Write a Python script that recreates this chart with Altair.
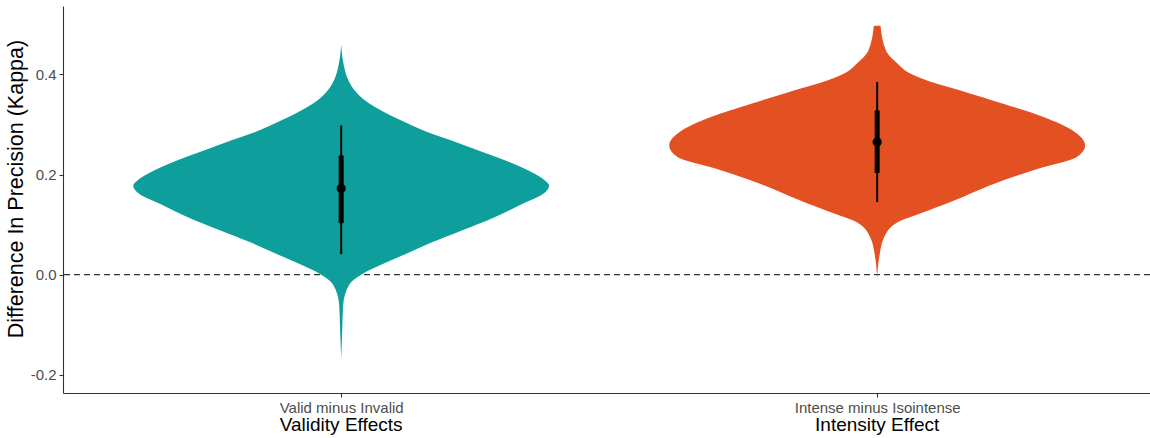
import altair as alt
import pandas as pd

# Two contrasts, shown left to right
EFFECTS = ["Validity Effects", "Intensity Effect"]
CONTRASTS = ["Valid minus Invalid", "Intense minus Isointense"]
COLORS = ["#0E9F9D", "#E35022"]

# Violin outlines: difference in kappa and relative density (1 = widest point)
VALIDITY_KAPPA = [-0.168, -0.112, -0.059, -0.019, 0.001, 0.021, 0.041, 0.065,
                  0.088, 0.115, 0.141, 0.161, 0.178, 0.188, 0.208, 0.228,
                  0.248, 0.268, 0.284, 0.304, 0.324, 0.348, 0.368, 0.388,
                  0.422, 0.46]
VALIDITY_DENSITY = [0.0, 0.005, 0.01, 0.04, 0.10, 0.20, 0.31, 0.44,
                    0.58, 0.74, 0.87, 0.97, 1.0, 0.98, 0.90, 0.79,
                    0.66, 0.53, 0.42, 0.31, 0.21, 0.115, 0.065, 0.035,
                    0.011, 0.0]

INTENSITY_KAPPA = [-0.009, 0.035, 0.075, 0.105, 0.121, 0.148, 0.181, 0.211,
                   0.235, 0.258, 0.288, 0.315, 0.341, 0.368, 0.388, 0.404,
                   0.421, 0.447, 0.497]
INTENSITY_DENSITY = [0.0, 0.01, 0.034, 0.10, 0.20, 0.37, 0.56, 0.77,
                     0.96, 1.0, 0.94, 0.80, 0.61, 0.40, 0.24, 0.15,
                     0.10, 0.043, 0.016]

# Posterior summaries: median, 66% and 95% intervals
MEDIANS = [0.172, 0.265]
INNER_LO = [0.103, 0.203]
INNER_HI = [0.238, 0.328]
OUTER_LO = [0.041, 0.145]
OUTER_HI = [0.298, 0.385]

POSITIONS = [1, 2]
HALF_WIDTH = 0.388  # widest half-width of a violin, in category units

rows = []
for pos, eff, ks, ds in [(1, EFFECTS[0], VALIDITY_KAPPA, VALIDITY_DENSITY),
                         (2, EFFECTS[1], INTENSITY_KAPPA, INTENSITY_DENSITY)]:
    for k, d in zip(ks, ds):
        rows.append({"effect": eff, "kappa": k,
                     "lo": pos - d * HALF_WIDTH, "hi": pos + d * HALF_WIDTH})
violin_df = pd.DataFrame(rows)

summary_df = pd.DataFrame({
    "pos": POSITIONS, "effect": EFFECTS, "med": MEDIANS,
    "lo1": INNER_LO, "hi1": INNER_HI, "lo2": OUTER_LO, "hi2": OUTER_HI,
})

FONT = "Liberation Sans"
W, H = 1087, 387
xscale = alt.Scale(domain=[0.481, 2.509], nice=False, zero=False)
yscale = alt.Scale(domain=[-0.2365, 0.5367], nice=False, zero=False)

label_expr = " : ".join(
    f"datum.value == {p} ? '{c}'" for p, c in zip(POSITIONS, CONTRASTS)
) + " : ''"

x_axis = alt.Axis(values=POSITIONS, labelExpr=label_expr, title=None,
                  grid=False, domainColor="#333333", domainWidth=1.1,
                  tickColor="#333333", tickSize=4, tickWidth=1.1,
                  labelColor="#4D4D4D", labelFontSize=15, labelFont=FONT,
                  labelPadding=3)
y_axis = alt.Axis(values=[-0.2, 0.0, 0.2, 0.4],
                  labelExpr="replace(format(datum.value, '.1f'), '\u2212', '-')",
                  title="Difference In Precision (Kappa)", grid=False,
                  domainColor="#333333", domainWidth=1.1,
                  tickColor="#333333", tickSize=4, tickWidth=1.1,
                  labelColor="#4D4D4D", labelFontSize=15, labelFont=FONT,
                  labelPadding=3, titleFont=FONT, titleFontSize=21.5,
                  titleFontWeight="normal", titleColor="#000000",
                  titleX=-47, titleY=H / 2 - 11, titleAngle=270,
                  titleAlign="center", titleBaseline="middle")

zero_line = alt.Chart(pd.DataFrame({"y": [0.0]})).mark_rule(
    strokeDash=[6, 4], color="#333333", strokeWidth=1.1
).encode(y=alt.Y("y:Q", scale=yscale, axis=y_axis))

violins = alt.Chart(violin_df).mark_area(
    orient="horizontal", interpolate="monotone", opacity=1
).encode(
    y=alt.Y("kappa:Q", scale=yscale),
    x=alt.X("lo:Q", scale=xscale, axis=x_axis),
    x2="hi:Q",
    color=alt.Color("effect:N", scale=alt.Scale(domain=EFFECTS, range=COLORS),
                    legend=None),
)

outer = alt.Chart(summary_df).mark_rule(color="black", strokeWidth=2).encode(
    x=alt.X("pos:Q", scale=xscale), y=alt.Y("lo2:Q", scale=yscale), y2="hi2:Q")
inner = alt.Chart(summary_df).mark_rule(color="black", strokeWidth=5).encode(
    x=alt.X("pos:Q", scale=xscale), y=alt.Y("lo1:Q", scale=yscale), y2="hi1:Q")
points = alt.Chart(summary_df).mark_circle(color="black", size=85, opacity=1).encode(
    x=alt.X("pos:Q", scale=xscale), y=alt.Y("med:Q", scale=yscale))

effect_labels = alt.Chart(summary_df).mark_text(
    font=FONT, fontSize=19, color="#000000", baseline="middle", align="center"
).encode(x=alt.X("pos:Q", scale=xscale), y=alt.value(H + 32), text="effect:N")

chart = alt.layer(zero_line, violins, outer, inner, points, effect_labels).properties(
    width=W, height=H,
    autosize=alt.AutoSizeParams(type="none"),
    padding={"left": 63, "top": 6, "right": 0, "bottom": 45},
    background="white",
).configure_view(stroke=None)

chart.save("out.html", embed_options={"renderer": "svg", "actions": False})
